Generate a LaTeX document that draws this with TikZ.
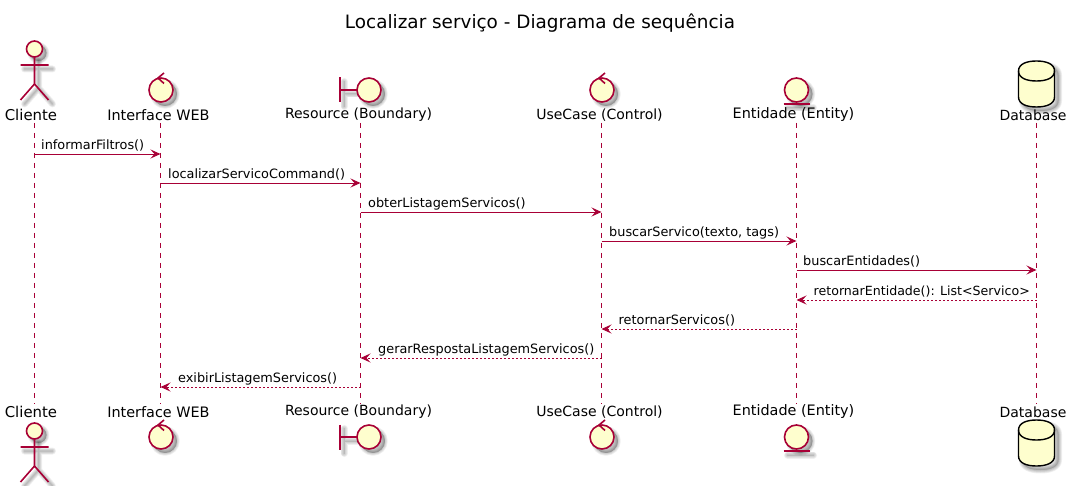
\documentclass[tikz,border=0pt]{standalone}
\usepackage{fontspec}
\setmainfont{DejaVu Sans}
\usetikzlibrary{arrows.meta}
\definecolor{puml}{HTML}{A80036}
\definecolor{pfill}{HTML}{FEFECE}
\tikzset{
  lifeline/.style={draw=puml,line width=0.9pt,dash pattern=on 5pt off 5pt},
  msg/.style={draw=puml,line width=0.9pt,-{Stealth[length=10pt,width=9pt,inset=4pt]}},
  ret/.style={draw=puml,line width=0.9pt,dash pattern=on 2pt off 2pt,-{Stealth[length=10pt,width=9pt,inset=4pt]}},
  party/.style={font=\fontsize{#1}{16}\selectfont,inner sep=0pt,text=black},
  mlabel/.style={font=\fontsize{12.85}{15}\selectfont,inner sep=0pt,anchor=base west,text=black},
  figure/.style={draw=puml,line width=1.6pt,fill=pfill},
  figline/.style={draw=puml,line width=1.6pt},
  shad/.style={draw=black,fill=none,line width=#1,draw opacity=0.06,line cap=round,line join=round}
}
\newcommand{\softline}[1]{%
  \foreach \w in {1,2.5,4,5.5,7}{\draw[shad=\w pt,xshift=4pt,yshift=-4pt] #1;}%
}
\newcommand{\softdisc}[1]{%
  \foreach \w in {1,2.5,4,5.5}{\draw[shad=\w pt,fill=black,fill opacity=0.07,xshift=4pt,yshift=-4pt] #1;}%
}
\newcommand{\actorfig}[2]{%
  \begin{scope}[shift={(#1,#2)}]
    \softdisc{(0,0) circle (8)}
    \softline{(-14,16) -- (14,16) (0,8) -- (0,35) (-14,51) -- (0,35) -- (14,51)}
    \draw[figure] (0,0) circle (8);
    \draw[figline] (0,8) -- (0,35) (-14,16) -- (14,16) (-14,51) -- (0,35) -- (14,51);
  \end{scope}}
\newcommand{\controlfig}[2]{%
  \begin{scope}[shift={(#1,#2)}]
    \softdisc{(0,0) circle (12)}
    \draw[figure] (0,0) circle (12);
    \draw[figline] (3,-17) -- (-3,-12) -- (3,-6.5);
  \end{scope}}
\newcommand{\boundaryfig}[2]{%
  \begin{scope}[shift={(#1,#2)}]
    \softline{(-20,-12.5) -- (-20,12.5) (-20,0) -- (-3,0)}
    \softdisc{(9,0) circle (12)}
    \draw[figline] (-20,-12.5) -- (-20,12.5) (-20,0) -- (-3,0);
    \draw[figure] (9,0) circle (12);
  \end{scope}}
\newcommand{\entityfig}[2]{%
  \begin{scope}[shift={(#1,#2)}]
    \softdisc{(0,0) circle (12)}
    \softline{(-13,14) -- (13,14)}
    \draw[figure] (0,0) circle (12);
    \draw[figline] (-13,14) -- (13,14);
  \end{scope}}
\newcommand{\dbfig}[2]{%
  \begin{scope}[shift={(#1,#2)}]
    \fill[black,opacity=0.14,xshift=4pt,yshift=-4pt] (-18,10) .. controls (-18,3) and (-10,0) .. (0,0) .. controls (10,0) and (18,3) .. (18,10) -- (18,36) .. controls (18,43) and (10,46) .. (0,46) .. controls (-10,46) and (-18,43) .. (-18,36) -- cycle;
    \softline{(-18,10) .. controls (-18,3) and (-10,0) .. (0,0) .. controls (10,0) and (18,3) .. (18,10) -- (18,36) .. controls (18,43) and (10,46) .. (0,46) .. controls (-10,46) and (-18,43) .. (-18,36) -- cycle}
    \draw[draw=black,line width=1.4pt,fill=pfill] (-18,10) .. controls (-18,3) and (-10,0) .. (0,0) .. controls (10,0) and (18,3) .. (18,10) -- (18,36) .. controls (18,43) and (10,46) .. (0,46) .. controls (-10,46) and (-18,43) .. (-18,36) -- cycle;
    \draw[draw=black,line width=1.4pt] (-18,10) .. controls (-18,17) and (-10,20) .. (0,20) .. controls (10,20) and (18,17) .. (18,10);
  \end{scope}}
\begin{document}
\begin{tikzpicture}[x=1pt,y=-1pt]
\useasboundingbox (0,0) rectangle (1073,486);
\fill[white] (0,0) rectangle (1073,486);
\node[font=\fontsize{18.4}{21}\selectfont,inner sep=0pt,text=black] (title) at (540,23.5) {Localizar serviço - Diagrama de sequência};

\foreach \n/\x in {a/34.5,b/160.5,c/360.5,d/601.5,e/796.5,f/1036.5}{
  \coordinate (\n top) at (\x,123);
  \coordinate (\n bot) at (\x,404);
  \draw[lifeline] (\n top) -- (\n bot);
}

\actorfig{34.5}{49}
\actorfig{34.5}{431}
\controlfig{161}{90}
\controlfig{161}{437}
\boundaryfig{360}{90}
\boundaryfig{360}{437}
\controlfig{602}{90}
\controlfig{602}{437}
\entityfig{796.5}{90}
\entityfig{796.5}{437}
\dbfig{1036.5}{61}
\dbfig{1036.5}{420}

\foreach \n/\x/\t/\s in {a/31/Cliente/14.9,b/158.5/Interface WEB/14.4,c/358.5/Resource (Boundary)/14,d/599.5/UseCase (Control)/14,e/793.5/Entidade (Entity)/14.4,f/1033/Database/14}{
  \node[party=\s] (\n T) at (\x,115) {\t};
  \node[party=\s] (\n B) at (\x,412) {\t};
}

\foreach \n/\x in {a/34.5,b/160.5,c/360.5,d/601.5,e/796.5,f/1036.5}{
  \foreach \i/\y in {1/154,2/183,3/212,4/241,5/270,6/300,7/329,8/358,9/387}{
    \coordinate (\n\i) at (\x,\y);
  }
}

\draw[msg] (a1) -- (b1);
\draw[msg] (b2) -- (c2);
\draw[msg] (c3) -- (d3);
\draw[msg] (d4) -- (e4);
\draw[msg] (e5) -- (f5);
\draw[ret] (f6) -- (e6);
\draw[ret] (e7) -- (d7);
\draw[ret] (d8) -- (c8);
\draw[ret] (c9) -- (b9);

\node[mlabel] (m1) at (41,149.7) {informarFiltros()};
\node[mlabel] (m2) at (168,178.7) {localizarServicoCommand()};
\node[mlabel] (m3) at (368,207.7) {obterListagemServicos()};
\node[mlabel] (m4) at (609,236.7) {buscarServico(texto, tags)};
\node[mlabel] (m5) at (803,265.7) {buscarEntidades()};
\node[mlabel,font=\fontsize{12.6}{15}\selectfont] (m6) at (813.5,295.7) {retornarEntidade(): List<Servico>};
\node[mlabel] (m7) at (618.5,324.7) {retornarServicos()};
\node[mlabel] (m8) at (378,353.7) {gerarRespostaListagemServicos()};
\node[mlabel] (m9) at (178,382.7) {exibirListagemServicos()};
\end{tikzpicture}
\end{document}
